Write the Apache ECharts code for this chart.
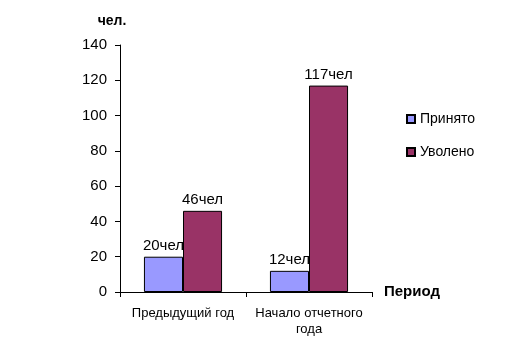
<!DOCTYPE html>
<html><head><meta charset="utf-8">
<script src="https://cdn.jsdelivr.net/npm/echarts@6/dist/echarts.min.js"></script>
<style>html,body{margin:0;padding:0;background:#fff}#c{width:529px;height:357px}</style>
</head><body><div id="c"></div>
<script>
const categories = ['Предыдущий год', 'Начало отчетного\nгода'];
const hired = [20, 12];
const fired = [46, 117];
const seriesNames = ['Принято', 'Уволено'];
const yTicks = { min: 0, max: 140, interval: 20 };

const chart = echarts.init(document.getElementById('c'));
const font = 'Liberation Sans, Arial, sans-serif';
const label = {
  show: true, position: 'top', distance: 3, color: '#000',
  fontFamily: font, fontSize: 15,
  formatter: p => p.value + 'чел'
};
chart.setOption({
  animation: false,
  textStyle: { fontFamily: font },
  grid: { left: 120, right: 157, top: 45, bottom: 65 },
  legend: {
    orient: 'vertical', left: 401, top: 107, itemGap: 19,
    itemWidth: 8, itemHeight: 8, icon: 'rect',
    textStyle: { fontSize: 14, color: '#000', fontFamily: font },
    data: seriesNames
  },
  xAxis: {
    type: 'category', data: categories,
    name: 'Период', nameLocation: 'end', nameGap: 12,
    nameTextStyle: { fontWeight: 'bold', fontSize: 15, color: '#000', fontFamily: font, verticalAlign: 'middle', padding: [2, 0, 0, 0] },
    axisLine: { lineStyle: { color: '#000', width: 1 } },
    axisTick: { show: true, inside: false, length: 5, lineStyle: { color: '#000' } },
    axisLabel: { interval: 0, color: '#000', fontSize: 13, margin: 13, lineHeight: 16, overflow: 'none', fontFamily: font, hideOverlap: false }
  },
  yAxis: {
    type: 'value', min: yTicks.min, max: yTicks.max, interval: yTicks.interval,
    name: 'чел.', nameLocation: 'end', nameGap: 17,
    nameTextStyle: { fontWeight: 'bold', fontSize: 14, color: '#000', fontFamily: font, padding: [0, 16, 0, 0] },
    axisLine: { show: true, lineStyle: { color: '#000', width: 1 } },
    axisTick: { show: true, inside: false, length: 5, lineStyle: { color: '#000' } },
    axisLabel: { color: '#000', fontSize: 15, margin: 13, fontFamily: font },
    splitLine: { show: false }
  },
  series: [
    { name: seriesNames[0], type: 'bar', data: hired, barGap: '0%', barCategoryGap: '38%',
      itemStyle: { color: '#9999FF', borderColor: '#000', borderWidth: 1 }, label: label },
    { name: seriesNames[1], type: 'bar', data: fired,
      itemStyle: { color: '#993366', borderColor: '#000', borderWidth: 1 }, label: label }
  ]
});
</script></body></html>
